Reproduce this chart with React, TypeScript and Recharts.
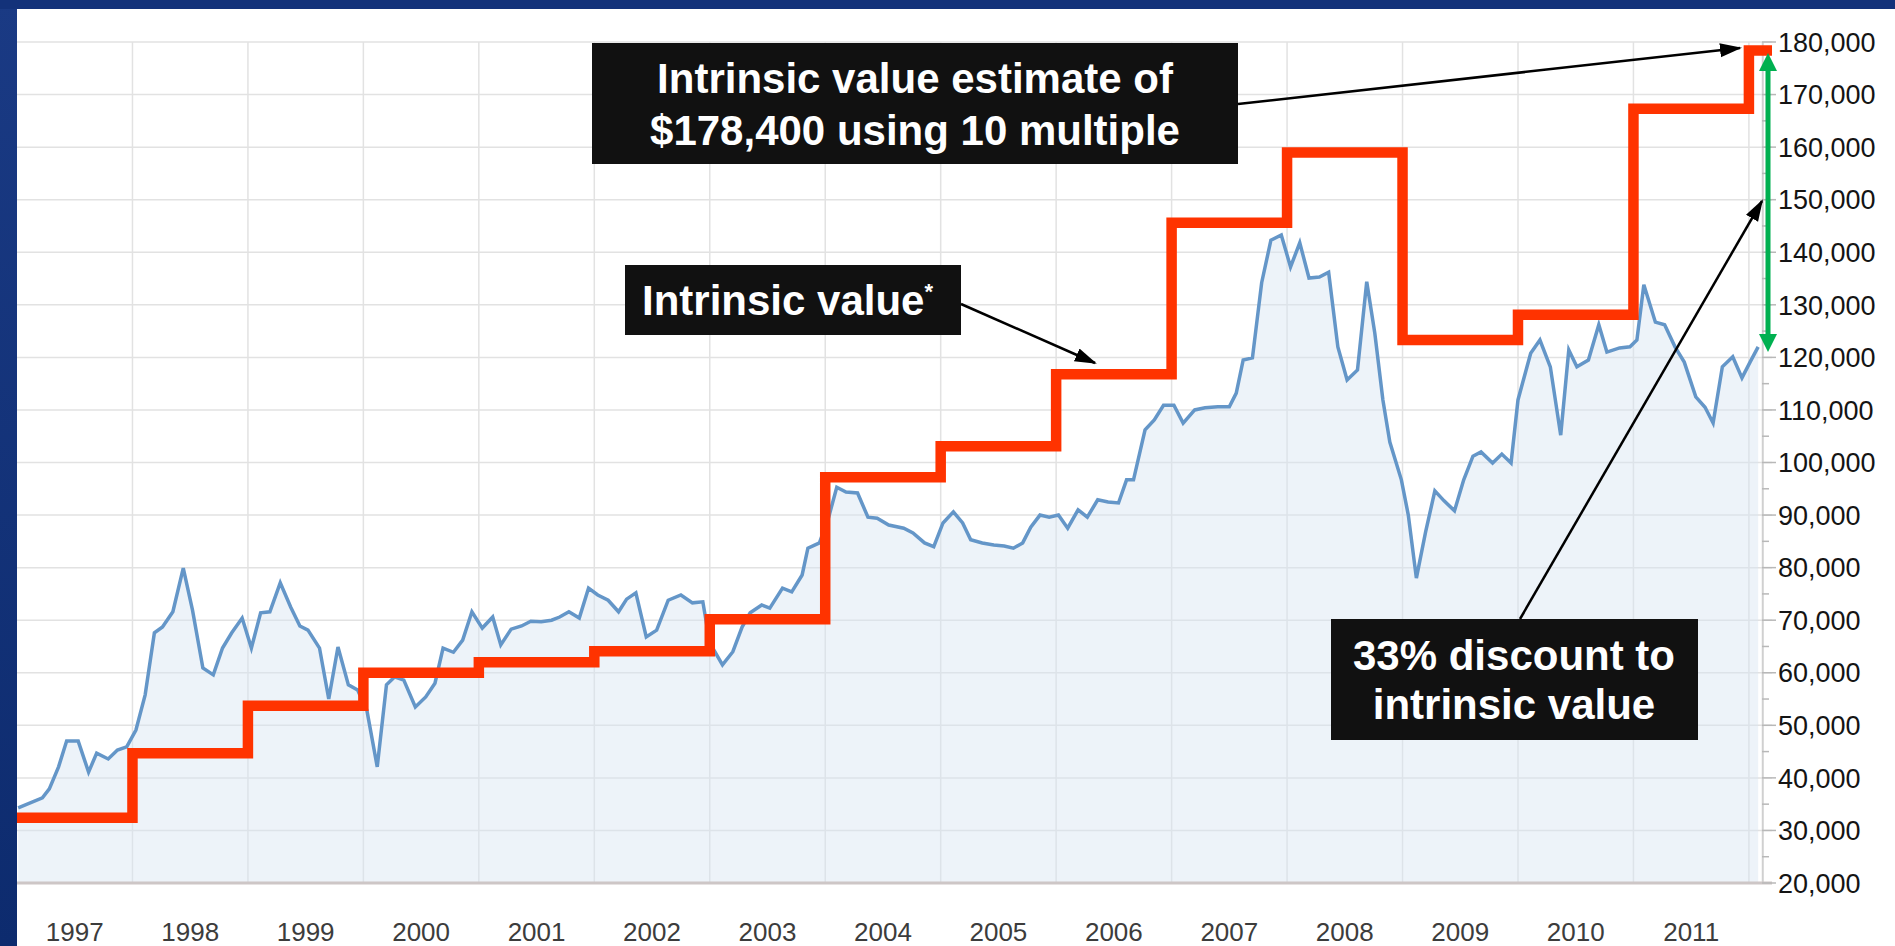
import { ComposedChart, Area, Line, XAxis, YAxis, CartesianGrid, ReferenceLine } from 'recharts'

// House price (monthly-ish readings) vs stepped intrinsic value, 1997-2011
const priceDates = [
  1997.01, 1997.22, 1997.28, 1997.36, 1997.43, 1997.53, 1997.62, 1997.69, 1997.79, 1997.87, 1997.95,
  1998.03, 1998.11, 1998.19, 1998.26, 1998.35, 1998.44, 1998.52, 1998.61, 1998.7, 1998.78, 1998.86, 1998.95,
  1999.03, 1999.11, 1999.19, 1999.28, 1999.37, 1999.45, 1999.52, 1999.62, 1999.7, 1999.78, 1999.87, 1999.95,
  2000.03, 2000.12, 2000.2, 2000.27, 2000.35, 2000.45, 2000.54, 2000.62, 2000.69, 2000.78, 2000.86, 2000.94,
  2001.03, 2001.12, 2001.19, 2001.28, 2001.37, 2001.45, 2001.54, 2001.63, 2001.7, 2001.78, 2001.87, 2001.95,
  2002.03, 2002.12, 2002.21, 2002.28, 2002.36, 2002.45, 2002.54, 2002.64, 2002.75, 2002.85, 2002.94,
  2003.0, 2003.11, 2003.2, 2003.28, 2003.35, 2003.45, 2003.52, 2003.63, 2003.71, 2003.8, 2003.85, 2003.95,
  2004.03, 2004.1, 2004.18, 2004.28, 2004.37, 2004.45, 2004.55, 2004.68, 2004.76, 2004.86, 2004.94,
  2005.02, 2005.11, 2005.19, 2005.26, 2005.36, 2005.46, 2005.55, 2005.63, 2005.71, 2005.78, 2005.86, 2005.94,
  2006.02, 2006.1, 2006.19, 2006.27, 2006.36, 2006.45, 2006.54, 2006.61, 2006.67, 2006.77, 2006.85, 2006.93,
  2007.02, 2007.1, 2007.2, 2007.29, 2007.4, 2007.5, 2007.56, 2007.62, 2007.7, 2007.78, 2007.86, 2007.95,
  2008.03, 2008.11, 2008.19, 2008.28, 2008.36, 2008.44, 2008.52, 2008.61, 2008.69, 2008.76, 2008.83, 2008.89, 2008.99,
  2009.05, 2009.12, 2009.2, 2009.28, 2009.36, 2009.45, 2009.53, 2009.61, 2009.68, 2009.78, 2009.86, 2009.94,
  2010.0, 2010.11, 2010.19, 2010.28, 2010.37, 2010.44, 2010.51, 2010.61, 2010.7, 2010.77, 2010.88, 2010.97,
  2011.03, 2011.09, 2011.19, 2011.27, 2011.36, 2011.44, 2011.54, 2011.62, 2011.69, 2011.77, 2011.86, 2011.94,
  2012.01, 2012.08,
]
const priceValues = [
  34300, 36200, 37900, 42100, 47000, 47000, 41100, 44700, 43600, 45300, 45900,
  49100, 55800, 67600, 68700, 71600, 79900, 71900, 60900, 59600, 64700, 67600, 70400,
  64700, 71400, 71600, 77100, 72500, 68900, 68100, 64700, 55000, 64900, 57700, 56700,
  52900, 42100, 57700, 59200, 58600, 53500, 55400, 58000, 64700, 63900, 66200, 71600,
  68500, 70600, 65300, 68300, 68900, 69800, 69700, 70000, 70600, 71600, 70400, 76100,
  74800, 73800, 71600, 74000, 75200, 66800, 68100, 73800, 74800, 73300, 73500,
  65700, 61500, 64000, 68700, 71400, 72900, 72300, 76100, 75400, 78600, 83700, 84700,
  89600, 95300, 94400, 94200, 89600, 89400, 88100, 87500, 86600, 84700, 84000,
  88500, 90600, 88500, 85300, 84700, 84300, 84100, 83700, 84700, 87700, 90000, 89600,
  90000, 87500, 91000, 89600, 92900, 92500, 92300, 96700, 96700, 106200, 108100, 110900,
  110900, 107500, 110000, 110400, 110600, 110600, 113200, 119500, 119900, 134200, 142300, 143300,
  137200, 141800, 135100, 135300, 136200, 122000, 115700, 117600, 134400, 124600, 111900, 103900, 96700,
  90000, 78000, 86800, 94600, 92700, 90800, 96700, 101200, 102000, 99900, 101600, 99900,
  111900, 120800, 123300, 118200, 105200, 121400, 118200, 119500, 126200, 121000, 121800, 122000,
  123300, 133800, 126700, 126200, 122000, 119100, 112500, 110500, 107500, 118200, 120100, 116100,
  119100, 122000,
]

const intrinsicYears = [1997, 1998, 1999, 2000, 2001, 2002, 2003, 2004, 2005, 2006, 2007, 2008, 2009, 2010, 2011, 2012, 2012.2]
const intrinsicValues = [32400, 44700, 53700, 60000, 62000, 64100, 70200, 97200, 103100, 116800, 145600, 159000, 123300, 128100, 167300, 178400, 178400]

const yearLabels = ['1997', '1998', '1999', '2000', '2001', '2002', '2003', '2004', '2005', '2006', '2007', '2008', '2009', '2010', '2011']
const yearBoundaries = [1998, 1999, 2000, 2001, 2002, 2003, 2004, 2005, 2006, 2007, 2008, 2009, 2010, 2011, 2012]
const majorTicks = [20000, 30000, 40000, 50000, 60000, 70000, 80000, 90000, 100000, 110000, 120000, 130000, 140000, 150000, 160000, 170000, 180000]
const minorTicks = [25000, 35000, 45000, 55000, 65000, 75000, 85000, 95000, 105000, 115000, 125000, 135000, 145000, 155000, 165000, 175000]

const AXIS_YEAR = 2012.12
const FONT = '"Liberation Sans", Arial, Helvetica, sans-serif'

const priceData = priceDates.map((d, i) => ({ year: d, price: priceValues[i] }))
const intrinsicData = intrinsicYears.map((d, i) => ({ year: d, value: intrinsicValues[i] }))

function fmt(v: number) {
  return String(v).replace(/\B(?=(\d{3})+(?!\d))/g, ',')
}

function PriceTick(props: any) {
  const { x, y, payload } = props
  const major = payload.value % 10000 === 0
  return (
    <g>
      <line x1={x - 16} x2={x - (major ? 2 : 9)} y1={y} y2={y} stroke="#b8b8b8" strokeWidth={1.5} />
      {major && (
        <text x={x} y={y} dy="0.36em" fill="#141414" fontSize={27} fontFamily={FONT}>
          {fmt(payload.value)}
        </text>
      )}
    </g>
  )
}

function Annotations() {
  const box = '#111111'
  const txt = { fill: '#ffffff', fontFamily: FONT, fontWeight: 700, fontSize: 42 } as const
  return (
    <svg width={1895} height={946} style={{ position: 'absolute', left: 0, top: 0, pointerEvents: 'none' }}>
      <defs>
        <linearGradient id="frame" x1="0" y1="0" x2="0" y2="1">
          <stop offset="0%" stopColor="#1a3a84" />
          <stop offset="100%" stopColor="#0d2b6e" />
        </linearGradient>
        <marker id="headBlack" markerUnits="userSpaceOnUse" markerWidth={22} markerHeight={16} refX={20} refY={7} orient="auto">
          <path d="M0,0 L22,7 L0,14 z" fill="#000" />
        </marker>
        <marker id="headGreen" markerUnits="userSpaceOnUse" markerWidth={20} markerHeight={20} refX={8} refY={9} orient="auto-start-reverse">
          <path d="M0,0 L18,9 L0,18 z" fill="#00b050" />
        </marker>
      </defs>

      {/* dark blue slide frame */}
      <rect x={0} y={0} width={17} height={946} fill="url(#frame)" />
      <rect x={0} y={0} width={1895} height={9} fill="#13327a" />

      {/* intrinsic value estimate callout */}
      <rect x={592} y={43} width={646} height={121} fill={box} />
      <text x={915} y={93} textAnchor="middle" {...txt}>Intrinsic value estimate of</text>
      <text x={915} y={145} textAnchor="middle" {...txt}>$178,400 using 10 multiple</text>
      <line x1={1238} y1={104} x2={1740} y2={48} stroke="#000" strokeWidth={2.5} markerEnd="url(#headBlack)" />

      {/* intrinsic value label */}
      <rect x={625} y={265} width={336} height={70} fill={box} />
      <text x={642} y={315} {...txt}>
        Intrinsic value<tspan fontSize={22} dy={-16}>*</tspan>
      </text>
      <line x1={961} y1={304} x2={1095} y2={363} stroke="#000" strokeWidth={2.5} markerEnd="url(#headBlack)" />

      {/* discount callout */}
      <rect x={1331} y={619} width={367} height={121} fill={box} />
      <text x={1514} y={670} textAnchor="middle" {...txt}>33% discount to</text>
      <text x={1514} y={719} textAnchor="middle" {...txt}>intrinsic value</text>
      <line x1={1520} y1={619} x2={1762} y2={201} stroke="#000" strokeWidth={2.5} markerEnd="url(#headBlack)" />

      {/* green gap arrow */}
      <line x1={1768} y1={63} x2={1768} y2={342} stroke="#00b050" strokeWidth={5} markerStart="url(#headGreen)" markerEnd="url(#headGreen)" />
    </svg>
  )
}

export default function App() {
  return (
    <div style={{ position: 'absolute', left: 0, top: 0, width: 1895, height: 946, background: '#ffffff', overflow: 'hidden' }}>
      <ComposedChart width={1895} height={946} margin={{ top: 42, right: 13, bottom: 3, left: 17 }}>
        <CartesianGrid
          stroke="#e2e2e2"
          strokeWidth={1.5}
          horizontalValues={majorTicks}
          verticalValues={yearBoundaries}
        />
        <XAxis
          type="number"
          dataKey="year"
          domain={[1997, 2012.2]}
          ticks={yearLabels.map((l) => Number(l) + 0.5)}
          tickFormatter={(v: number) => String(Math.floor(v))}
          height={60}
          axisLine={{ stroke: '#cdc6c6', strokeWidth: 3 }}
          tickLine={false}
          tickSize={0}
          tickMargin={40}
          tick={{ fill: '#3c3c3c', fontSize: 26, fontFamily: FONT }}
        />
        <YAxis
          orientation="right"
          type="number"
          domain={[20000, 180000]}
          ticks={[...majorTicks, ...minorTicks].sort((a, b) => a - b)}
          width={110}
          axisLine={false}
          tickLine={false}
          tickSize={0}
          tickMargin={6}
          tick={<PriceTick />}
          interval={0}
        />
        <ReferenceLine x={AXIS_YEAR} stroke="#d0d0d0" strokeWidth={2} />
        <Area
          data={priceData}
          dataKey="price"
          type="linear"
          stroke="#6496c8"
          strokeWidth={3.5}
          fill="#d6e4f2"
          fillOpacity={0.45}
          dot={false}
          activeDot={false}
          isAnimationActive={false}
        />
        <Line
          data={intrinsicData}
          dataKey="value"
          type="stepAfter"
          stroke="#ff3300"
          strokeWidth={10.5}
          dot={false}
          activeDot={false}
          isAnimationActive={false}
        />
      </ComposedChart>
      <Annotations />
    </div>
  )
}
